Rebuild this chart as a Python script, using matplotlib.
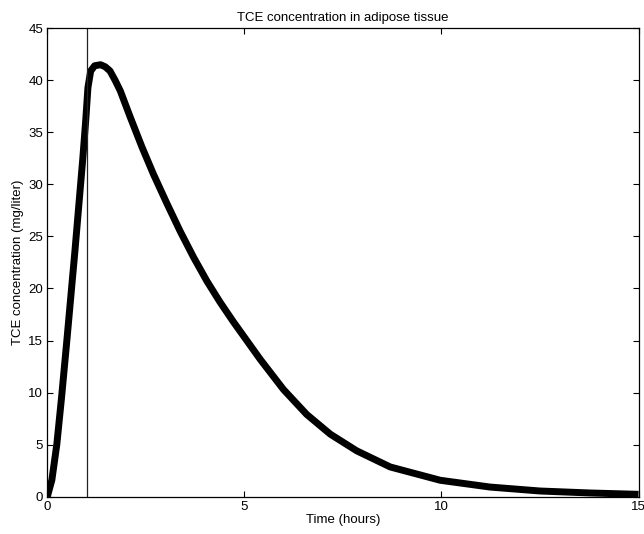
import matplotlib
matplotlib.use("Agg")
import matplotlib.pyplot as plt

plt.rcParams['font.family'] = ['Liberation Sans', 'DejaVu Sans']

# Simulated TCE concentration in adipose tissue (mg/liter) vs time (hours)
time_h = [0.0, 0.115, 0.24, 0.36, 0.5, 0.7, 0.9, 0.975, 1.03, 1.1, 1.2,
          1.35, 1.47, 1.59, 1.72, 1.85, 2.10, 2.40, 2.69, 3.03, 3.37, 3.71,
          4.05, 4.38, 4.72, 4.89, 5.06, 5.40, 5.99, 6.58, 7.18, 7.85, 8.70,
          9.97, 11.23, 12.50, 13.77, 15.0]
conc = [0.0, 1.6, 5.0, 9.5, 15.2, 23.6, 32.5, 36.2, 39.3, 40.9, 41.4,
        41.5, 41.3, 40.9, 40.0, 39.0, 36.5, 33.6, 31.0, 28.2, 25.5, 23.0,
        20.7, 18.7, 16.8, 15.9, 15.0, 13.2, 10.3, 7.9, 6.0, 4.4, 2.85,
        1.57, 0.92, 0.54, 0.35, 0.22]

infusion_end = 1.0

x_ticks = [0, 5, 10, 15]
y_ticks = [0, 5, 10, 15, 20, 25, 30, 35, 40, 45]

fig = plt.figure(figsize=(6.44, 5.34), dpi=100)
ax = fig.add_axes([0.0735, 0.0700, 0.918, 0.8770])

ax.plot(time_h, conc, color='black', linewidth=5.0, solid_joinstyle='round',
        solid_capstyle='butt')
ax.axvline(infusion_end, color='#222222', linewidth=0.9)

ax.set_xlim(0, 15)
ax.set_ylim(0, 45)
ax.set_xticks(x_ticks)
ax.set_yticks(y_ticks)
ax.tick_params(direction='in', top=True, right=True, length=4, width=0.8,
               labelsize=9.5, pad=3)
for s in ax.spines.values():
    s.set_linewidth(0.9)

ax.set_title('TCE concentration in adipose tissue', fontsize=9.5, pad=5)
ax.set_xlabel('Time (hours)', fontsize=9.5, labelpad=1)
ax.set_ylabel('TCE concentration (mg/liter)', fontsize=9.5, labelpad=3)

fig.savefig('out.png', dpi=100)
